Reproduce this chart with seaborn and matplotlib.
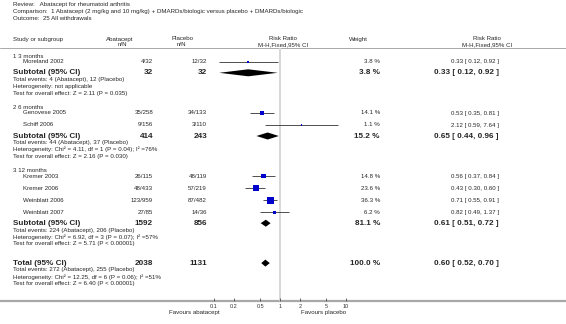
import numpy as np
import pandas as pd
import matplotlib
matplotlib.use("Agg")
import matplotlib.pyplot as plt
import seaborn as sns

# Study level data
study = ["Moreland 2002", "Genovese 2005", "Schiff 2006", "Kremer 2003",
         "Kremer 2006", "Weinblatt 2006", "Weinblatt 2007"]
group = [0, 1, 1, 2, 2, 2, 2]
abat_ev = [4, 35, 9, 26, 48, 123, 27]
abat_n = [32, 258, 156, 115, 433, 959, 85]
plac_ev = [12, 34, 3, 48, 57, 87, 14]
plac_n = [32, 133, 110, 119, 219, 482, 36]
weight = [3.8, 14.1, 1.1, 14.8, 23.6, 36.3, 6.2]
rr = [0.33, 0.53, 2.12, 0.56, 0.43, 0.71, 0.82]
rr_lo = [0.12, 0.35, 0.59, 0.37, 0.30, 0.55, 0.49]
rr_hi = [0.92, 0.81, 7.64, 0.84, 0.60, 0.91, 1.37]

# Subgroup data
groups = ["1 3 months", "2 6 months", "3 12 months"]
sub_n_abat = [32, 414, 1592]
sub_n_plac = [32, 243, 856]
sub_weight = [3.8, 15.2, 81.1]
sub_rr = [0.33, 0.65, 0.61]
sub_lo = [0.12, 0.44, 0.51]
sub_hi = [0.92, 0.96, 0.72]
sub_notes = [
    ["Total events: 4 (Abatacept), 12 (Placebo)",
     "Heterogeneity: not applicable",
     "Test for overall effect: Z = 2.11 (P = 0.035)"],
    ["Total events: 44 (Abatacept), 37 (Placebo)",
     "Heterogeneity: Chi² = 4.11, df = 1 (P = 0.04); I² =76%",
     "Test for overall effect: Z = 2.16 (P = 0.030)"],
    ["Total events: 224 (Abatacept), 206 (Placebo)",
     "Heterogeneity: Chi² = 6.92, df = 3 (P = 0.07); I² =57%",
     "Test for overall effect: Z = 5.71 (P < 0.00001)"],
]

# Overall
tot_n_abat = 2038
tot_n_plac = 1131
tot_weight = 100.0
tot_rr, tot_lo, tot_hi = 0.60, 0.52, 0.70
tot_notes = ["Total events: 272 (Abatacept), 255 (Placebo)",
             "Heterogeneity: Chi² = 12.25, df = 6 (P = 0.06); I² =51%",
             "Test for overall effect: Z = 6.40 (P < 0.00001)"]

title_lines = ["Review:   Abatacept for rheumatoid arthritis",
               "Comparison:  1 Abatacept (2 mg/kg and 10 mg/kg) + DMARDs/biologic versus placebo + DMARDs/biologic",
               "Outcome:  25 All withdrawals"]
xticks = [0.1, 0.2, 0.5, 1, 2, 5, 10]
xtick_labels = ["0.1", "0.2", "0.5", "1", "2", "5", "10"]

sns.set_style("white")
plt.rcParams['font.family'] = ['Liberation Sans', 'DejaVu Sans']

W, H = 566, 324
fig = plt.figure(figsize=(W / 100, H / 100), dpi=100)
bg = fig.add_axes([0, 0, 1, 1])
bg.set_xlim(0, W)
bg.set_ylim(H, 0)
bg.axis("off")

FS = 4.4
FSB = 5.9
AXIS_Y = 301
HEAD_Y = 48

# forest axes: log scale, pixel rows on y
ax = fig.add_axes([214 / W, (H - AXIS_Y) / H, (346 - 214) / W, (AXIS_Y - HEAD_Y) / H])
ax.patch.set_alpha(0)
ax.set_xscale("log")
ax.set_xlim(0.1, 10)
ax.set_ylim(AXIS_Y, HEAD_Y)
for s in ax.spines.values():
    s.set_visible(False)
ax.set_xticks(xticks)
ax.set_xticklabels(xtick_labels)
ax.minorticks_off()
ax.set_yticks([])
ax.tick_params(axis="x", direction="in", length=2.2, width=0.5, labelsize=4,
               pad=2.5, colors="#333333", bottom=True)
ax.axvline(1, color="#d4d4d4", lw=1.3, zorder=0)

# title and header
for i, t in enumerate(title_lines):
    bg.text(13, 4.8 + i * 6.6, t, fontsize=FS, va="center")
bg.text(13, 39, "Study or subgroup", fontsize=FS, va="center")
bg.text(120, 39, "Abatacept", fontsize=FS, va="center", ha="center")
bg.text(122, 44.8, "n/N", fontsize=FS, va="center", ha="center")
bg.text(182, 39, "Placebo", fontsize=FS, va="center", ha="center")
bg.text(181, 44.8, "n/N", fontsize=FS, va="center", ha="center")
bg.text(283, 39, "Risk Ratio", fontsize=FS, va="center", ha="center")
bg.text(283, 44.8, "M-H,Fixed,95% CI", fontsize=FS, va="center", ha="center")
bg.text(358, 39, "Weight", fontsize=FS, va="center", ha="center")
bg.text(487, 39, "Risk Ratio", fontsize=FS, va="center", ha="center")
bg.text(487, 44.8, "M-H,Fixed,95% CI", fontsize=FS, va="center", ha="center")
bg.axhline(HEAD_Y, color="#a8a8a8", lw=0.7)
bg.axhline(AXIS_Y, color="#a8a8a8", lw=1.6)

X_NAME, X_IND, X_AB, X_PL, X_W, X_RR = 13, 23, 153, 207, 380, 499


def ci_text(e, lo, hi):
    return f"{e:.2f} [ {lo:.2f}, {hi:.2f} ]"


def diamond(y, est, lo, hi, h=3.5):
    ax.fill([lo, est, hi, est], [y, y - h, y, y + h], color="black", lw=0, zorder=3)


# layout rows
study_y = [0.0] * len(study)
y = 56
for g, name in enumerate(groups):
    bg.text(X_NAME, y, name, fontsize=FS, va="center")
    idx = [i for i in range(len(study)) if group[i] == g]
    y += 5.8
    for k, i in enumerate(idx):
        if k > 0:
            y += 12
        study_y[i] = y
        bg.text(X_IND, y, study[i], fontsize=FS, va="center")
        bg.text(X_AB, y, f"{abat_ev[i]}/{abat_n[i]}", fontsize=FS, va="center", ha="right")
        bg.text(X_PL, y, f"{plac_ev[i]}/{plac_n[i]}", fontsize=FS, va="center", ha="right")
        bg.text(X_W, y, f"{weight[i]:.1f} %", fontsize=FS, va="center", ha="right")
        bg.text(X_RR, y, ci_text(rr[i], rr_lo[i], rr_hi[i]), fontsize=FS, va="center", ha="right")
    y += 11
    bg.text(X_NAME, y, "Subtotal (95% CI)", fontsize=FSB, weight="bold", va="center")
    bg.text(X_AB, y, f"{sub_n_abat[g]}", fontsize=FSB, weight="bold", va="center", ha="right")
    bg.text(X_PL, y, f"{sub_n_plac[g]}", fontsize=FSB, weight="bold", va="center", ha="right")
    bg.text(X_W, y, f"{sub_weight[g]:.1f} %", fontsize=FSB, weight="bold", va="center", ha="right")
    bg.text(X_RR, y, ci_text(sub_rr[g], sub_lo[g], sub_hi[g]), fontsize=FSB, weight="bold",
            va="center", ha="right")
    diamond(y, sub_rr[g], sub_lo[g], sub_hi[g])
    for note in sub_notes[g]:
        y += 6.8
        bg.text(X_NAME, y, note, fontsize=FS, va="center")
    y += 14

y += 5.5
bg.text(X_NAME, y, "Total (95% CI)", fontsize=FSB, weight="bold", va="center")
bg.text(X_AB, y, f"{tot_n_abat}", fontsize=FSB, weight="bold", va="center", ha="right")
bg.text(X_PL, y, f"{tot_n_plac}", fontsize=FSB, weight="bold", va="center", ha="right")
bg.text(X_W, y, f"{tot_weight:.1f} %", fontsize=FSB, weight="bold", va="center", ha="right")
bg.text(X_RR, y, ci_text(tot_rr, tot_lo, tot_hi), fontsize=FSB, weight="bold", va="center", ha="right")
diamond(y, tot_rr, tot_lo, tot_hi)
for note in tot_notes:
    y += 6.8
    bg.text(X_NAME, y, note, fontsize=FS, va="center")

# study markers and CIs
df = pd.DataFrame({"rr": rr, "lo": rr_lo, "hi": rr_hi, "w": weight, "y": study_y})
ax.hlines(df["y"], df["lo"], df["hi"], color="#333333", lw=0.6, zorder=2)
sns.scatterplot(data=df, x="rr", y="y", size="w", sizes=(0.686 * min(weight), 0.686 * max(weight)),
                marker="s", color="#0000cc", linewidth=0, legend=False, ax=ax, zorder=3)
ax.set_xlabel("")
ax.set_ylabel("")

bg.text(194, 312.5, "Favours abatacept", fontsize=FS, va="center", ha="center")
bg.text(324, 312.5, "Favours placebo", fontsize=FS, va="center", ha="center")

fig.savefig("out.png", dpi=100)
